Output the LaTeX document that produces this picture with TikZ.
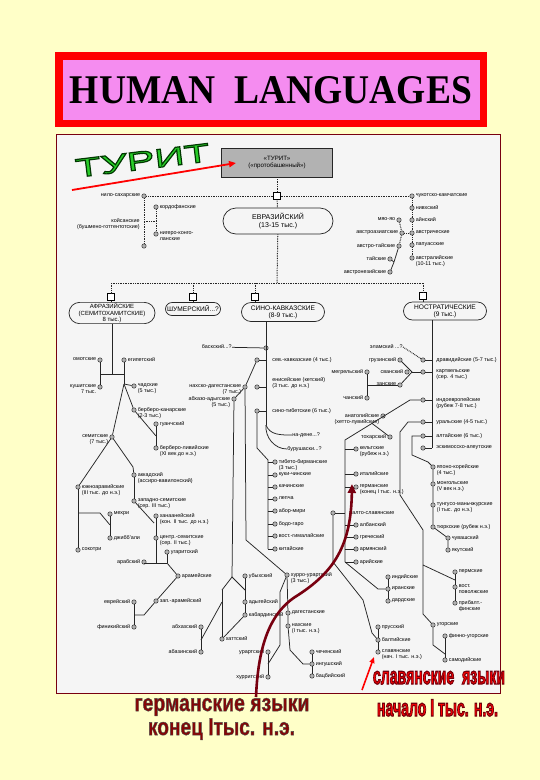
\documentclass[tikz,border=0pt]{standalone}
\usepackage{fontspec}
\usepackage{graphicx}
\setmainfont{Liberation Serif}
\newfontfamily\lf{Liberation Sans}
\newfontfamily\turf[FakeStretch=1.6]{Liberation Sans}
\usetikzlibrary{arrows.meta,calc,shapes.misc}
\definecolor{bgy}{RGB}{255,255,200}
\definecolor{tpink}{RGB}{245,140,240}
\definecolor{panel}{RGB}{245,245,245}
\definecolor{dred}{RGB}{120,0,16}
\definecolor{tgreen}{RGB}{40,205,40}
\definecolor{gred}{RGB}{135,5,5}
\tikzset{
 lb/.style={font=\lf\fontsize{5.4}{5.9}\selectfont, inner sep=0.2pt, align=left},
 lbr/.style={lb, align=right},
 dt/.style={circle, draw=black!80, fill=black!30, minimum size=4.4pt, inner sep=0pt, line width=0.5pt},
 sqn/.style={rectangle, draw=black, fill=white, minimum size=6.5pt, inner sep=0pt, line width=0.8pt},
 ln/.style={draw=black!85, line width=0.75pt},
 dl/.style={draw=black!85, line width=1pt, dash pattern=on 0.8pt off 0.9pt},
 fam/.style={rounded rectangle, draw=black!85, line width=0.7pt, fill=panel, font=\lf\fontsize{6.6}{6.8}\selectfont, align=center, inner sep=1pt},
 turs/.style={font=\turf\fontsize{26}{26}\selectfont, rotate=7, inner sep=0pt},
 slv/.style={font=\lf\bfseries\fontsize{24}{24}\selectfont, inner sep=0pt, anchor=base},
}
% outlined text: #1 text, #2 stroke rgb, #3 stroke width
\newcommand\outl[3]{\special{pdf:literal direct #2 RG #3 w 2 Tr}#1\special{pdf:literal direct 0 Tr}}
\newcommand\lgR[4]{\node[dt] (#1) at (#2,#3) {}; \node[lb, anchor=north west] (#1l) at (#2+3.4,#3-3.2) {#4};}
\newcommand\lgL[4]{\node[dt] (#1) at (#2,#3) {}; \node[lbr, anchor=north east] (#1l) at (#2-3.4,#3-3.2) {#4};}
\newcommand\lgX[5]{\node[dt] (#1) at (#2,#3) {}; \node[lb, anchor=north west] (#1l) at (#4,#3-3.2) {#5};}
\begin{document}
\begin{tikzpicture}[x=1pt,y=-1pt]
\useasboundingbox (0,0) rectangle (540,780);
\fill[bgy] (0,0) rectangle (540,780);
% title
\fill[tpink] (55,52) rectangle (487,127);
\draw[red, line width=7.5pt] (58.75,55.75) rectangle (483.25,123.25);
\node[inner sep=0pt] (title) at (271,90.5) {\resizebox{402pt}{27pt}{\bfseries HUMAN\ \ LANGUAGES}};
% panel
\filldraw[fill=panel, draw=dred, line width=0.8pt] (56.5,134.5) rectangle (500.5,693);

% TURIT
\node[turs, text=tgreen] (tu) at (142.5,160.5) {\outl{ТУРИТ}{0 0.22 0}{1.2}};

% top boxes
\node[draw=black!85, fill=black!30, line width=0.7pt, minimum width=111pt, minimum height=29pt, font=\lf\fontsize{6.2}{7.5}\selectfont, align=center] (turit) at (277,162.5) {«ТУРИТ»\\(«протобашенный»)};
\node[sqn] (sqT) at (277,196) {};
\node[fam, minimum width=112pt, minimum height=26pt, font=\lf\fontsize{7}{8}\selectfont] (evr) at (278,221) {ЕВРАЗИЙСКИЙ\\(13-15 тыс.)};
\coordinate (jT) at (277,283);

% left top
\lgL{nilo}{144}{196}{нило-сахарские}
\node[dt] (koi) at (144,246) {};
\node[lbr, anchor=east] (koil) at (140,224) {койсанские\\(бушмено-готтентотские)};
\lgR{kord}{156}{207}{кордофанские}
\lgR{nig}{156}{234}{нигеро-конго-\\ланские}
\coordinate (kj1) at (144,221); \coordinate (kj2) at (156,221);

% right top
\lgR{chuk}{412}{196}{чукотско-камчатские}
\lgR{nivkh}{412}{208}{нивхский}
\lgR{ainu}{412}{220}{айнский}
\lgR{austric}{412}{233}{австрические}
\lgR{papua}{412}{245}{папуасские}
\lgR{austral}{412}{258}{австралийские\\(10-11 тыс.)}
\lgL{miao}{399}{220}{мяо-яо}
\lgL{aas}{402}{233}{австроазиатские}
\lgL{atai}{399}{246}{австро-тайские}
\lgL{tai}{390}{259}{тайские}
\lgL{austron}{390}{272}{австронезийские}
\coordinate (atj) at (394,262);

% families
\coordinate (hA) at (111,283); \coordinate (hS) at (193,283); \coordinate (hSC) at (255,283); \coordinate (hN) at (423,283);
\node[sqn] (sqA) at (111,297) {};
\node[sqn] (sqS) at (193,297) {};
\node[sqn] (sqSC) at (255,297) {};
\node[sqn] (sqN) at (423,296) {};
\node[fam, minimum width=88pt, minimum height=21pt, font=\lf\fontsize{6}{6.3}\selectfont] (afr) at (112,313) {АФРАЗИЙСКИЕ\\(СЕМИТОХАМИТСКИЕ)\\8 тыс.)};
\node[fam, minimum width=57pt, minimum height=13pt] (sum) at (193,309) {ШУМЕРСКИЙ...?};
\node[fam, minimum width=85pt, minimum height=19pt] (sc) at (283,312) {СИНО-КАВКАЗСКИЕ\\(8-9 тыс.)};
\node[fam, minimum width=85pt, minimum height=18pt] (nos) at (445,311) {НОСТРАТИЧЕСКИЕ\\(9 тыс.)};

% Afroasiatic
\coordinate (a0) at (112,374); \coordinate (a1) at (100,374); \coordinate (a2) at (124,374);
\lgL{omot}{100}{360}{омотские}
\lgR{egypt}{124}{360}{египетский}
\lgL{kush}{100}{387}{кушитские\\7 тыс.}
\lgR{chad}{134}{386}{чадские\\(5 тыс.)}
\coordinate (f1) at (124,384);
\lgL{sem}{112}{437}{семитские\\(7 тыс.)}
\lgR{berb}{134}{410}{берберо-канарские\\(2-3 тыс.)}
\lgR{guan}{156}{424}{гуанчский}
\lgR{libyc}{156}{448}{берберо-ливийские\\(XI век до н.э.)}
\coordinate (b1) at (156,436);
\lgR{sar}{78}{487}{южноаравийские\\(III тыс. до н.э.)}
\coordinate (s1) at (133,467);
\lgR{akk}{134}{475}{аккадский\\(ассиро-вавилонский)}
\lgR{zs}{134}{501}{западно-семитские\\(сер. III тыс.)}
\lgR{mehri}{110}{514}{мехри}
\lgR{jibb}{110}{538}{джибб'али}
\lgR{sok}{78}{550}{сокотри}
\coordinate (m1) at (78,513); \coordinate (m2) at (100,513); \coordinate (m3) at (110,525);
\lgR{hanaan}{156}{516}{ханаанейский\\(кон. II тыс. до н.э.)}
\lgR{csem}{156}{538}{центр.-семитские\\(сер. II тыс.)}
\lgR{ugar}{167}{552}{угаритский}
\lgL{arab}{144}{562}{арабский}
\coordinate (z1) at (154,523); \coordinate (z2) at (156,563); \coordinate (z3) at (167,563); \coordinate (z0) at (144,563);
\lgR{aram}{178}{576}{арамейские}
\lgR{zaram}{156}{601}{зап.-арамейский}
\lgL{hebr}{134}{602}{еврейский}
\lgL{phoen}{134}{627}{финикийский}
\coordinate (h1) at (144,615); \coordinate (h2) at (134,615);

% Sino-Caucasian
\coordinate (cs0) at (266,321); \coordinate (c0) at (266,425);
\node[dt] (basq) at (266,348) {};
\node[lbr, anchor=east] (basql) at (232,347) {баскский...?};
\node[dt] (nc) at (257,360) {};
\node[lb, anchor=north west] (ncl) at (272,356.8) {сев.-кавказские (4 тыс.)};
\lgL{nd}{245}{387}{нахско-дагестанские\\(7 тыс.)}
\lgL{abad}{234}{399}{абхазо-адыгские\\(5 тыс.)}
\node[dt] (yen) at (257,387) {};
\node[lb, anchor=north west] (yenl) at (272,377) {енисейские (кетский)\\(3 тыс. до н.э.)};
\node[dt] (st) at (257,411) {};
\node[lb, anchor=north west] (stl) at (272,407.8) {сино-тибетские (6 тыс.)};
\node[lb, anchor=west] (nad) at (292,435) {на-дене...?};
\node[lb, anchor=west] (bur) at (287,449) {бурушаски...?};
\coordinate (st1) at (257,448); \coordinate (st2) at (268,460); \coordinate (st3) at (268,549);
\lgR{tb}{275}{462}{тибето-бирманские\\(3 тыс.)}
\lgR{kuki}{275}{475}{куки-чинские}
\lgR{kach}{275}{487}{качинские}
\lgR{lep}{275}{499}{лепча}
\lgR{abor}{275}{511}{абор-мири}
\lgR{bodo}{275}{524}{бодо-гаро}
\lgR{egim}{275}{536}{вост.-гималайские}
\lgR{chin}{275}{549}{китайские}
\coordinate (nd1) at (246,540);
\lgR{hu}{287}{575}{хурро-урартский\\(3 тыс.)}
\lgR{dag}{288}{613}{дагестанские}
\lgR{nakh}{288}{626}{нахские\\(I тыс. н.э.)}
\coordinate (n1) at (290,650); \coordinate (n2) at (303,664);
\lgR{chech}{312}{652}{чеченский}
\lgR{ingush}{312}{664}{ингушский}
\lgR{bats}{312}{676}{бацбийский}
\lgL{urart}{268}{652}{урартский}
\lgL{hurr}{268}{677}{хурритский}
\coordinate (uu1) at (268,664); \coordinate (uu2) at (280,645); \coordinate (uu3) at (280,592);
\coordinate (A) at (232,577); \coordinate (AL) at (222,590); \coordinate (AR) at (245,590); \coordinate (AL2) at (222,602);
\lgR{ubykh}{245}{576}{убыхский}
\lgR{adyg}{245}{602}{адыгейский}
\lgR{kabard}{245}{615}{кабардинский}
\lgR{hatt}{222}{639}{хаттский}
\lgL{abkh}{201}{627}{абхазский}
\lgL{abaz}{201}{652}{абазинский}
\coordinate (ab1) at (201,640);

% Nostratic
\coordinate (ns0) at (432,320); \coordinate (ns1) at (432,448);
\lgX{drav}{423}{360}{436}{дравидийские (5-7 тыс.)}
\lgX{kart}{423}{372}{436}{картвельские\\(сер. 4 тыс.)}
\lgX{ie}{423}{400}{436}{индоевропейские\\(рубеж 7-8 тыс.)}
\lgX{ural}{423}{422}{436}{уральские (4-5 тыс.)}
\lgX{alt}{423}{436}{436}{алтайские (6 тыс.)}
\lgX{esk}{423}{448}{436}{эскимосско-алеутские}
\node[lbr, anchor=east] (elam) at (403,347) {эламский ...?};
\lgL{grus}{400}{360}{грузинский}
\lgL{svan}{407}{372}{сванский}
\lgL{zan}{400}{385}{занские}
\coordinate (k0) at (412,372);
\lgL{megr}{367}{372}{мегрельский}
\lgL{chan}{367}{398}{чанский}
\coordinate (mz) at (367,385);
% IE
\coordinate (p1) at (410,400); \coordinate (p2) at (345,440); \coordinate (p3) at (345,562);
\lgL{anat}{383}{416}{анатолийские\\(хетто-лувийские)}
\lgL{tohar}{390}{437}{тохарский}
\coordinate (t1) at (372,423.4);
\lgR{celt}{356}{449}{кельтские\\(рубеж н.э.)}
\lgR{ital}{356}{474}{италийские}
\lgR{germ}{356}{487}{германские\\(конец I тыс. н.э.)}
\node[dt] (bs) at (333,513) {};
\node[lb, anchor=north west] (bsl) at (349,509.8) {балто-славянские};
\lgR{alb}{356}{525}{албанский}
\lgR{greek}{356}{537}{греческий}
\lgR{arm}{356}{549}{армянский}
\lgR{ariy}{356}{562}{арийские}
\coordinate (bs1) at (333,562); \coordinate (bs2) at (363,600); \coordinate (bs3) at (372,633);
\lgR{prus}{378}{627}{прусский}
\lgR{balt}{378}{640}{балтийские}
\lgR{slav}{378}{652}{славянские\\(нач. I тыс. н.э.)}
\lgR{ind}{388}{577}{индийские}
\lgR{iran}{388}{589}{иранские}
\lgR{dard}{388}{601}{дардские}
\coordinate (ii) at (378,589);
% Uralic
\coordinate (u1) at (408,422); \coordinate (u2) at (400,432); \coordinate (u3) at (400,495); \coordinate (u4) at (423,530); \coordinate (u5) at (423,614);
\lgR{ugr}{433}{625}{угорские}
\lgR{fu}{445}{636}{финно-угорские}
\lgR{samo}{445}{660}{самодийские}
\coordinate (ug1) at (433,645); \coordinate (ug2) at (445,654);
\lgR{perm}{455}{572}{пермские}
\lgR{volg}{455}{587}{вост.\\поволжские}
\lgR{pf}{455}{603}{прибалт.-\\финские}
\coordinate (pm1) at (423,565); \coordinate (pm2) at (455,580);
% Altaic
\coordinate (al1) at (412,436); \coordinate (al2) at (412,455); \coordinate (al3) at (428,462);
\lgR{jk}{433}{467}{японо-корейские\\(4 тыс.)}
\lgR{mong}{433}{484}{монгольские\\(V век н.э.)}
\lgR{tung}{433}{505}{тунгусо-маньчжурские\\(I тыс. до н.э.)}
\lgR{turk}{433}{527}{тюркские (рубеж н.э.)}
\lgR{chuv}{448}{538}{чувашский}
\lgR{yak}{448}{550}{якутский}

% ---------- connectors ----------
\draw[dl] (turit) -- (sqT);
\draw[dl] (sqT) -- (evr);
\draw[dl] (evr) -- (jT);
\draw[dl] (nilo) -- (sqT) -- (chuk);
\draw[dl] (nilo) -- (koi);
\draw[dl] (kj1) -- (kj2);
\draw[dl] (kord) -- (nig);
\draw[dl] (chuk) -- (nivkh) -- (ainu) -- (austric) -- (papua) -- (austral);
\draw[dl] (miao) -- (aas) -- (atai);
\draw[dl] (aas) -- (austric);
\draw[ln] (atai) -- (atj) -- (austron);
\draw[ln] (tai) -- (atj);
\draw[dl] (hA) -- (hN);
\draw[dl] (hA) -- (sqA); \draw[dl] (hS) -- (sqS); \draw[dl] (hSC) -- (sqSC); \draw[dl] (hN) -- (sqN);
\draw[ln] (sqA) -- (sqA |- afr.north);
\draw[ln] (sqS) -- (sqS |- sum.north);
\draw[ln] (sqSC) -- (sqSC |- sc.north);
\draw[ln] (sqN) -- (sqN |- nos.north);
% Afroasiatic
\draw[ln] (afr.south) -- (a0);
\draw[ln] (a1) -- (a2);
\draw[ln] (omot) -- (kush);
\draw[ln] (egypt) -- (f1);
\draw[ln] (f1) -- (chad);
\draw[ln] (f1) -- (sem);
\draw[ln] (f1) -- (berb);
\draw[ln] (berb) -- (b1);
\draw[ln] (guan) -- (libyc);
\draw[ln] (sem) -- (sar);
\draw[ln] (sem) -- (s1) -- (akk);
\draw[ln] (akk) -- (zs);
\draw[ln] (sar) -- (sok);
\draw[ln] (m1) -- (m2) -- (m3);
\draw[ln] (mehri) -- (jibb);
\draw[ln] (zs) -- (z1);
\draw[ln] (hanaan) -- (csem) -- (z2);
\draw[ln] (z0) -- (z3);
\draw[ln] (arab) -- (z0);
\draw[ln] (ugar) -- (z3);
\draw[ln] (z3) -- (aram);
\draw[ln] (aram) -- (zaram) -- (h1) -- (h2);
\draw[ln] (hebr) -- (phoen);
% Sino-Caucasian
\draw[ln] (cs0) -- (c0);
\draw[ln] (basql) -- (basq);
\draw[ln] (nc) -- (nc -| c0);
\draw[ln] (yen) -- (yen -| c0);
\draw[ln] (st) -- (st -| c0);
\draw[ln] (nc) -- (nd) -- (abad);
\draw[ln] (c0) to[out=-70, in=180] (nad.west);
\draw[ln] (c0) to[out=-95, in=180] (bur.west);
\draw[ln] (st) -- (st1) -- (st2) -- (st3);
\foreach \n in {tb,kuki,kach,lep,abor,bodo,egim,chin} {\draw[ln] (\n) -- (\n -| st2);}
\draw[ln] (nd) -- (nd1) -- (hu);
\draw[ln] (hu) -- (dag) -- (nakh);
\draw[ln] (nakh) -- (n1) -- (n2) -- (ingush);
\draw[ln] (chech) -- (ingush) -- (bats);
\draw[ln] (urart) -- (hurr);
\draw[ln] (uu1) -- (uu2) -- (uu3) -- (hu);
\draw[ln] (abad) -- (A);
\draw[ln] (AL) -- (A) -- (AR);
\draw[ln] (ubykh) -- (adyg) -- (kabard);
\draw[ln] (kabard) -- (hatt);
\draw[ln] (AL) -- (hatt);
\draw[ln] (AL2) -- (ab1);
\draw[ln] (abkh) -- (abaz);
% Nostratic
\draw[ln] (ns0) -- (ns1);
\foreach \n in {drav,kart,ie,ural,alt,esk} {\draw[ln] (\n) -- (\n -| ns0);}
\draw[dl] (elam.east) -- (drav);
\draw[ln] (kart) -- (k0);
\draw[ln] (grus) -- (k0);
\draw[ln] (zan) -- (k0);
\draw[ln] (megr) -- (chan);
\draw[ln] (mz) -- (zan);
\draw[ln] (ie) -- (p1) -- (p2) -- (p3);
\draw[ln] (tohar) -- (t1);
\foreach \n in {celt,ital,germ,alb,greek,arm,ariy} {\draw[ln] (\n) -- (\n -| p2);}
\draw[ln] (bs) -- (bs -| p2);
\draw[ln] (bs) -- (bs1) -- (bs2) -- (bs3) -- (balt);
\draw[ln] (prus) -- (balt) -- (slav);
\draw[ln] (p3) -- (ii) -- (iran);
\draw[ln] (ind) -- (iran) -- (dard);
\draw[ln] (ural) -- (u1) -- (u2) -- (u3) -- (u4) -- (u5) -- (ugr);
\draw[ln] (ugr) -- (ug1) -- (ug2);
\draw[ln] (fu) -- (samo);
\draw[ln] (perm) -- (volg) -- (pf);
\draw[ln] (pm1) -- (pm2);
\draw[ln] (alt) -- (al1) -- (al2) -- (al3) -- (jk);
\draw[ln] (jk) -- (mong) -- (tung) -- (turk) -- (chuv) -- (yak);

% arrows
\coordinate (ta0) at (72,190); \coordinate (ta1) at (236,163);
\draw[red, line width=1.8pt, -{Triangle[length=7pt,width=6pt]}] (ta0) -- (ta1);
\coordinate (ga0) at (256,697); \coordinate (ga1) at (295,597); \coordinate (ga2) at (352,484);
\draw[dred, line width=2.6pt, -{Triangle[length=9pt,width=8pt]}] (ga0) .. controls (258,650) and (268,615) .. (ga1) .. controls (335,572) and (351,545) .. (ga2);
\coordinate (sa0) at (362,690); \coordinate (sa1) at (374,657);
\draw[red, line width=1.6pt, -{Triangle[length=6pt,width=5pt]}] (sa0) -- (sa1);

% bottom texts
\node[slv, text=gred] (g1) at (222,711) {\resizebox{175pt}{\height}{\outl{германские языки}{0.3 0.3 0.3}{0.5}}};
\node[slv, text=gred] (g2) at (221.5,735) {\resizebox{147pt}{\height}{\outl{конец Iтыс. н.э.}{0.3 0.3 0.3}{0.5}}};
\node[slv, text=red] (sl1) at (439,684) {\resizebox{132pt}{\height}{\outl{славянские\ \ языки}{0.45 0 0.05}{1.2}}};
\node[slv, text=red] (sl2) at (437.5,716) {\resizebox{121pt}{\height}{\outl{начало I тыс. н.э.}{0.45 0 0.05}{1.2}}};
\end{tikzpicture}
\end{document}
